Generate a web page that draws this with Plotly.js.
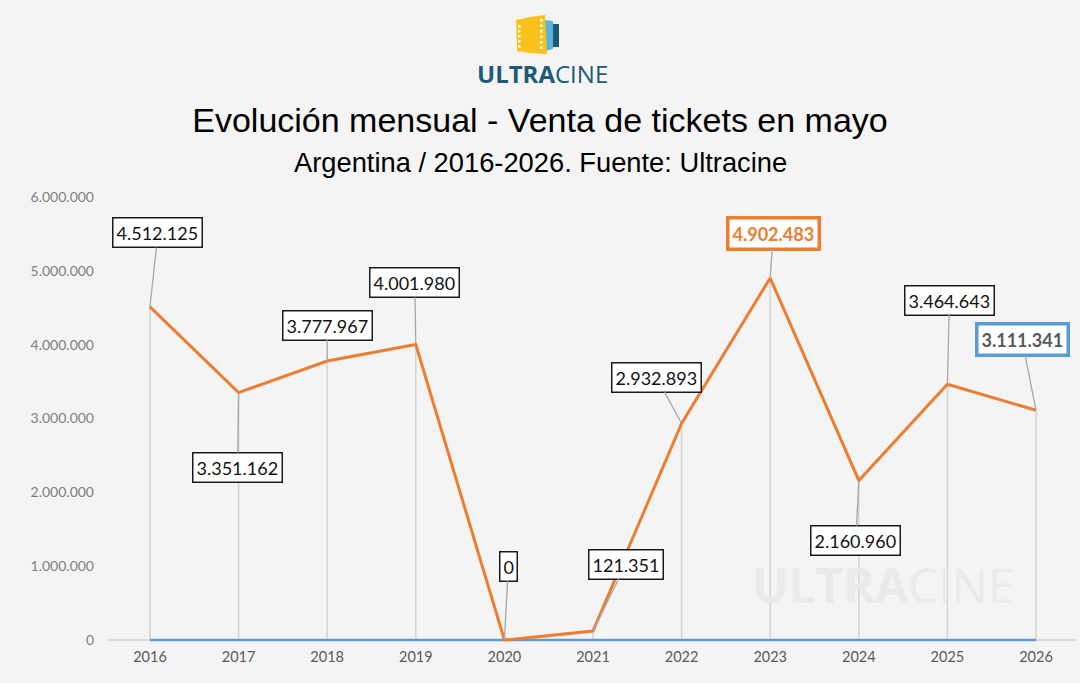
<!DOCTYPE html>
<html>
<head>
<meta charset="utf-8">
<script src="https://cdn.plot.ly/plotly-3.0.1.min.js"></script>
<style>html,body{margin:0;padding:0;background:#f4f4f4;}#chart{width:1080px;height:683px;}</style>
</head>
<body>
<div id="chart"></div>
<script>
const years = [2016, 2017, 2018, 2019, 2020, 2021, 2022, 2023, 2024, 2025, 2026];
const tickets = [4512125, 3351162, 3777967, 4001980, 0, 121351, 2932893, 4902483, 2160960, 3464643, 3111341];
const baseline = [0, 0, 0, 0, 0, 0, 0, 0, 0, 0, 0];
const labels = ['4.512.125', '3.351.162', '3.777.967', '4.001.980', '0', '121.351', '2.932.893', '4.902.483', '2.160.960', '3.464.643', '3.111.341'];
const yTicks = [0, 1000000, 2000000, 3000000, 4000000, 5000000, 6000000];
const labelOffsetX = [8, -1, 0, -1, 4, 33, -25, 3, -3, 2, -14];
const labelOffsetY = [-74, 75, -36, -62, -74, -67, -46, -45, 60, -84, -71];

const L = 107, W = 968, T = 197, H = 446;
const YMIN = -6000000 * 3 / 443;
const px = v => (v - L) / W;
const py = v => (T + H - v) / H;

const traces = [
  { x: years, y: tickets, type: 'scatter', mode: 'markers', marker: {size: 0.1, color: 'rgba(0,0,0,0)'},
    error_y: {type: 'data', symmetric: false, array: baseline, arrayminus: tickets, color: '#d3d3d3', thickness: 1.5, width: 0},
    hoverinfo: 'skip', showlegend: false },
  { x: years, y: baseline, type: 'scatter', mode: 'lines', line: {color: '#5b9bd5', width: 2.5}, showlegend: false },
  { x: years, y: tickets, type: 'scatter', mode: 'lines', line: {color: '#ed7d31', width: 3}, showlegend: false }
];

const annotations = [];
years.forEach((yr, i) => {
  let a = {
    x: yr, y: tickets[i], xref: 'x', yref: 'y', text: labels[i],
    showarrow: true, arrowhead: 0, arrowwidth: 1.3, arrowcolor: '#a6a6a6',
    ax: labelOffsetX[i], ay: labelOffsetY[i],
    bgcolor: '#ffffff', bordercolor: '#1a1a1a', borderwidth: 1.5, borderpad: 3,
    font: {family: 'Lato, sans-serif', size: 18, color: '#111111'}
  };
  if (yr === 2023) {
    a.bordercolor = '#ed7d31'; a.borderwidth = 3.5;
    a.text = '<b>' + labels[i] + '</b>';
    a.font = {family: 'Lato, sans-serif', size: 18, color: '#ed7d31'};
  }
  if (yr === 2026) {
    a.bordercolor = '#5b9bd5'; a.borderwidth = 3.5;
    a.text = '<b>' + labels[i] + '</b>';
    a.font = {family: 'Lato, sans-serif', size: 18, color: '#595959'};
  }
  annotations.push(a);
});

annotations.push({
  xref: 'paper', yref: 'paper', x: px(540), y: py(162), xanchor: 'center', yanchor: 'middle',
  text: 'Argentina / 2016-2026. Fuente: Ultracine', showarrow: false,
  font: {family: 'Liberation Sans, Arial, sans-serif', size: 27.3, color: '#000000'}
});
annotations.push({
  xref: 'paper', yref: 'paper', x: px(542), y: py(74), xanchor: 'center', yanchor: 'middle',
  text: '<b>ULTRA</b>CINE', showarrow: false,
  font: {family: 'Open Sans, sans-serif', size: 24, color: '#1d5a78'}
});
annotations.push({
  xref: 'paper', yref: 'paper', x: px(883), y: py(584), xanchor: 'center', yanchor: 'middle',
  text: '<b>ULTRA</b>CINE', showarrow: false,
  font: {family: 'Open Sans, sans-serif', size: 48, color: '#eaeaea'}
});

const shapes = [];
function poly(pts, color) {
  let d = pts.map((p, k) => (k ? 'L' : 'M') + px(p[0]) + ',' + py(p[1])).join(' ') + ' Z';
  shapes.push({type: 'path', xref: 'paper', yref: 'paper', path: d, fillcolor: color, line: {width: 0}, layer: 'above'});
}
poly([[552, 24], [559, 24], [559, 47], [552, 47]], '#1d5a78');
poly([[545, 20], [553, 21], [553, 49], [545, 51]], '#5ab4dc');
poly([[516, 20], [530, 17], [545, 15], [547, 54], [530, 53], [517, 51]], '#f9c21b');
[25, 30, 35, 40, 45].forEach(yv => poly([[518, yv], [520.5, yv], [520.5, yv + 2.5], [518, yv + 2.5]], '#ffffff'));
[19, 24.5, 30, 35.5, 41, 46.5].forEach(yv => poly([[540, yv], [542.5, yv], [542.5, yv + 2.5], [540, yv + 2.5]], '#ffffff'));

const layout = {
  width: 1080, height: 683,
  paper_bgcolor: '#f4f4f4', plot_bgcolor: '#f4f4f4',
  margin: {l: L, r: 1080 - L - W, t: T, b: 683 - T - H},
  separators: ',.',
  title: {text: 'Evolución mensual - Venta de tickets en mayo', xref: 'container', yref: 'container',
    x: 0.5, xanchor: 'center', y: 1 - 120 / 683, yanchor: 'middle',
    font: {family: 'Liberation Sans, Arial, sans-serif', size: 34, color: '#000000'}},
  xaxis: {type: 'linear', range: [2015.515, 2026.44], tickvals: years, ticktext: years.map(String),
    showgrid: false, zeroline: false, showline: false,
    ticks: '', ticklabelstandoff: 3, tickfont: {family: 'Lato, sans-serif', size: 14.5, color: '#595959'}, fixedrange: true},
  yaxis: {range: [YMIN, 6000000], tickvals: yTicks, tickformat: ',d', showgrid: false,
    zeroline: true, zerolinecolor: '#d9d9d9', zerolinewidth: 1.5, showline: false, layer: 'below traces',
    ticks: '', ticklabelstandoff: 12, tickfont: {family: 'Lato, sans-serif', size: 14, color: '#7f7f7f'}, fixedrange: true},
  annotations: annotations,
  shapes: shapes,
  showlegend: false
};

Plotly.newPlot('chart', traces, layout, {displayModeBar: false, staticPlot: true});
</script>
</body>
</html>
